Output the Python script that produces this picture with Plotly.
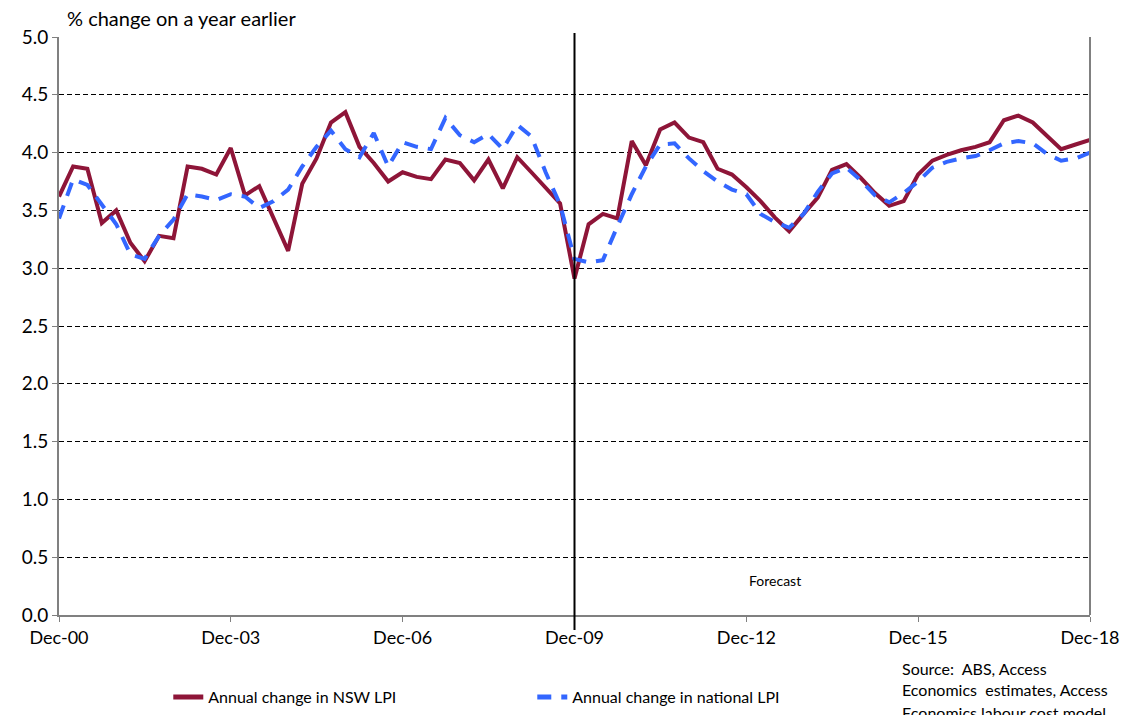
import pandas as pd
import plotly.graph_objects as go

# Quarterly periods Dec-00 .. Dec-18
quarters = pd.date_range("2000-12-31", periods=73, freq="QE-DEC")

nsw_lpi = [3.62, 3.88, 3.86, 3.39, 3.50, 3.22, 3.06, 3.28, 3.26, 3.88,
           3.86, 3.81, 4.04, 3.63, 3.71, 3.43, 3.15, 3.73, 3.95, 4.26,
           4.35, 4.05, 3.91, 3.75, 3.83, 3.79, 3.77, 3.94, 3.91, 3.76,
           3.94, 3.69, 3.96, 3.83, 3.70, 3.56, 2.91, 3.38, 3.47, 3.43,
           4.10, 3.89, 4.20, 4.26, 4.13, 4.09, 3.86, 3.81, 3.70, 3.58,
           3.44, 3.32, 3.47, 3.61, 3.85, 3.90, 3.78, 3.65, 3.54, 3.58,
           3.81, 3.93, 3.98, 4.02, 4.05, 4.09, 4.28, 4.32, 4.26, 4.14,
           4.03, 4.07, 4.11]

national_lpi = [3.43, 3.77, 3.72, 3.55, 3.38, 3.12, 3.08, 3.28, 3.42, 3.64,
                3.62, 3.59, 3.64, 3.62, 3.52, 3.58, 3.68, 3.88, 4.05, 4.19,
                4.03, 3.96, 4.17, 3.88, 4.09, 4.05, 4.03, 4.30, 4.15, 4.09,
                4.16, 4.03, 4.24, 4.14, 3.83, 3.55, 3.08, 3.05, 3.07, 3.36,
                3.64, 3.88, 4.07, 4.08, 3.95, 3.84, 3.75, 3.68, 3.64, 3.47,
                3.40, 3.35, 3.47, 3.66, 3.82, 3.87, 3.76, 3.63, 3.57, 3.65,
                3.75, 3.87, 3.92, 3.95, 3.97, 4.02, 4.08, 4.10, 4.08, 3.99,
                3.93, 3.95, 4.00]

tick_dates = ["2000-12-31", "2003-12-31", "2006-12-31", "2009-12-31",
              "2012-12-31", "2015-12-31", "2018-12-31"]
tick_labels = ["Dec-00", "Dec-03", "Dec-06", "Dec-09", "Dec-12", "Dec-15", "Dec-18"]
y_ticks = [0.0, 0.5, 1.0, 1.5, 2.0, 2.5, 3.0, 3.5, 4.0, 4.5, 5.0]
source_lines = ["Source:  ABS, Access", "Economics  estimates, Access",
                "Economics labour cost model"]

RED = "#8E1538"
BLUE = "#3366FF"
FONT = "Lato"

fig = go.Figure()
fig.add_trace(go.Scatter(x=quarters, y=nsw_lpi, mode="lines",
                         name="Annual change in NSW LPI",
                         line=dict(color=RED, width=4)))
fig.add_trace(go.Scatter(x=quarters, y=national_lpi, mode="lines",
                         name="Annual change in national LPI",
                         line=dict(color=BLUE, width=4, dash="14px,10px")))

fig.update_xaxes(range=[quarters[0], quarters[-1]], tickvals=tick_dates,
                 ticktext=tick_labels, showgrid=False, showline=True,
                 linecolor="#808080", linewidth=2, ticks="outside",
                 ticklen=5, tickcolor="#808080", mirror=False, automargin=False,
                 tickfont=dict(family=FONT, size=18, color="black"))
fig.update_yaxes(range=[0, 5], tickvals=y_ticks,
                 ticktext=[f"{v:.1f}" for v in y_ticks],
                 showgrid=True, gridcolor="black", gridwidth=1,
                 griddash="5px,3px", showline=True, linecolor="#808080",
                 linewidth=2, ticks="outside", ticklen=5, tickcolor="#808080",
                 zeroline=False, automargin=False,
                 tickfont=dict(family=FONT, size=19, color="black"))

annotations = [
    dict(text="% change on a year earlier", xref="paper", yref="paper",
         x=0.006, y=1.0, xanchor="left", yanchor="bottom", yshift=5,
         showarrow=False, font=dict(family=FONT, size=20, color="black")),
    dict(text="Forecast", xref="x", yref="y", x="2013-06-30", y=0.3,
         xanchor="center", yanchor="middle", showarrow=False,
         font=dict(family=FONT, size=14, color="black")),
]
for i, line in enumerate(source_lines):
    annotations.append(dict(text=line, xref="paper", yref="paper",
                            x=(900 - 59) / 1031, y=-(668 - 615 + 22 * i) / 578,
                            xanchor="left", yanchor="middle", showarrow=False,
                            font=dict(family=FONT, size=16, color="black")))

fig.update_layout(
    width=1125, height=715,
    margin=dict(l=59, r=35, t=37, b=100, autoexpand=False),
    plot_bgcolor="white", paper_bgcolor="white",
    showlegend=True,
    legend=dict(orientation="h", x=0.106, y=-0.142, xanchor="left",
                yanchor="middle", entrywidth=319, entrywidthmode="pixels",
                font=dict(family=FONT, size=16, color="black"),
                bgcolor="rgba(0,0,0,0)", itemsizing="constant"),
    shapes=[
        dict(type="line", xref="x", yref="paper", x0="2009-12-31", x1="2009-12-31",
             y0=-0.026, y1=1.007, line=dict(color="black", width=2)),
        dict(type="line", xref="paper", yref="paper", x0=1, x1=1, y0=0, y1=1,
             line=dict(color="#808080", width=2)),
    ],
    annotations=annotations,
)

fig.write_html("out.html", config={"displayModeBar": False},
               post_script="document.body.style.margin='0';document.body.style.padding='0';")
